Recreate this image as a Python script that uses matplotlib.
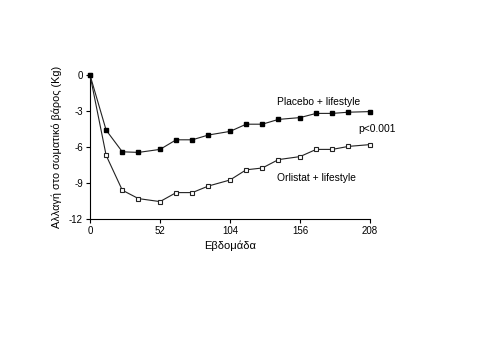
import matplotlib
matplotlib.use("Agg")
import matplotlib.pyplot as plt

weeks = [0, 12, 24, 36, 52, 64, 76, 88, 104, 116, 128, 140, 156, 168, 180, 192, 208]
placebo = [0, -4.6, -6.4, -6.45, -6.2, -5.4, -5.4, -5.0, -4.7, -4.1, -4.1, -3.7, -3.55, -3.2, -3.2, -3.1, -3.05]
orlistat = [0, -6.7, -9.6, -10.3, -10.55, -9.8, -9.8, -9.25, -8.75, -7.9, -7.75, -7.05, -6.8, -6.2, -6.2, -5.95, -5.8]
xticks = [0, 52, 104, 156, 208]
yticks = [0, -3, -6, -9, -12]

plt.rcParams['font.family'] = ['Liberation Sans', 'DejaVu Sans']

fig = plt.figure(figsize=(4.8, 3.6), dpi=100)
ax = fig.add_axes([90/480, 1-219/360, 280/480, 144/360])

ax.plot(weeks, orlistat, color='#222222', lw=0.8, marker='s', ms=3.2,
        mfc='white', mec='#222222', mew=0.8, clip_on=False, zorder=3)
ax.plot(weeks, placebo, color='#222222', lw=0.8, marker='s', ms=3.2,
        mfc='black', mec='black', clip_on=False, zorder=4)

ax.set_xlim(0, 208)
ax.set_ylim(-12, 0)
ax.set_xticks(xticks)
ax.set_yticks(yticks)
ax.set_yticklabels([str(v) for v in yticks])
ax.tick_params(labelsize=7, length=3, width=0.8, direction='out', pad=2)
for s in ['top', 'right']:
    ax.spines[s].set_visible(False)
for s in ['left', 'bottom']:
    ax.spines[s].set_linewidth(0.8)

ax.set_xlabel('Εβδομάδα', fontsize=8, labelpad=3)
ax.set_ylabel('Αλλαγή στο σωματικό βάρος (Kg)', fontsize=7.8, labelpad=5)

ax.text(139, -2.25, 'Placebo + lifestyle', fontsize=7.4, ha='left', va='center')
ax.text(199, -4.5, 'p<0.001', fontsize=7.4, ha='left', va='center')
ax.text(139, -8.55, 'Orlistat + lifestyle', fontsize=7.4, ha='left', va='center')

fig.savefig('out.png', dpi=100)
